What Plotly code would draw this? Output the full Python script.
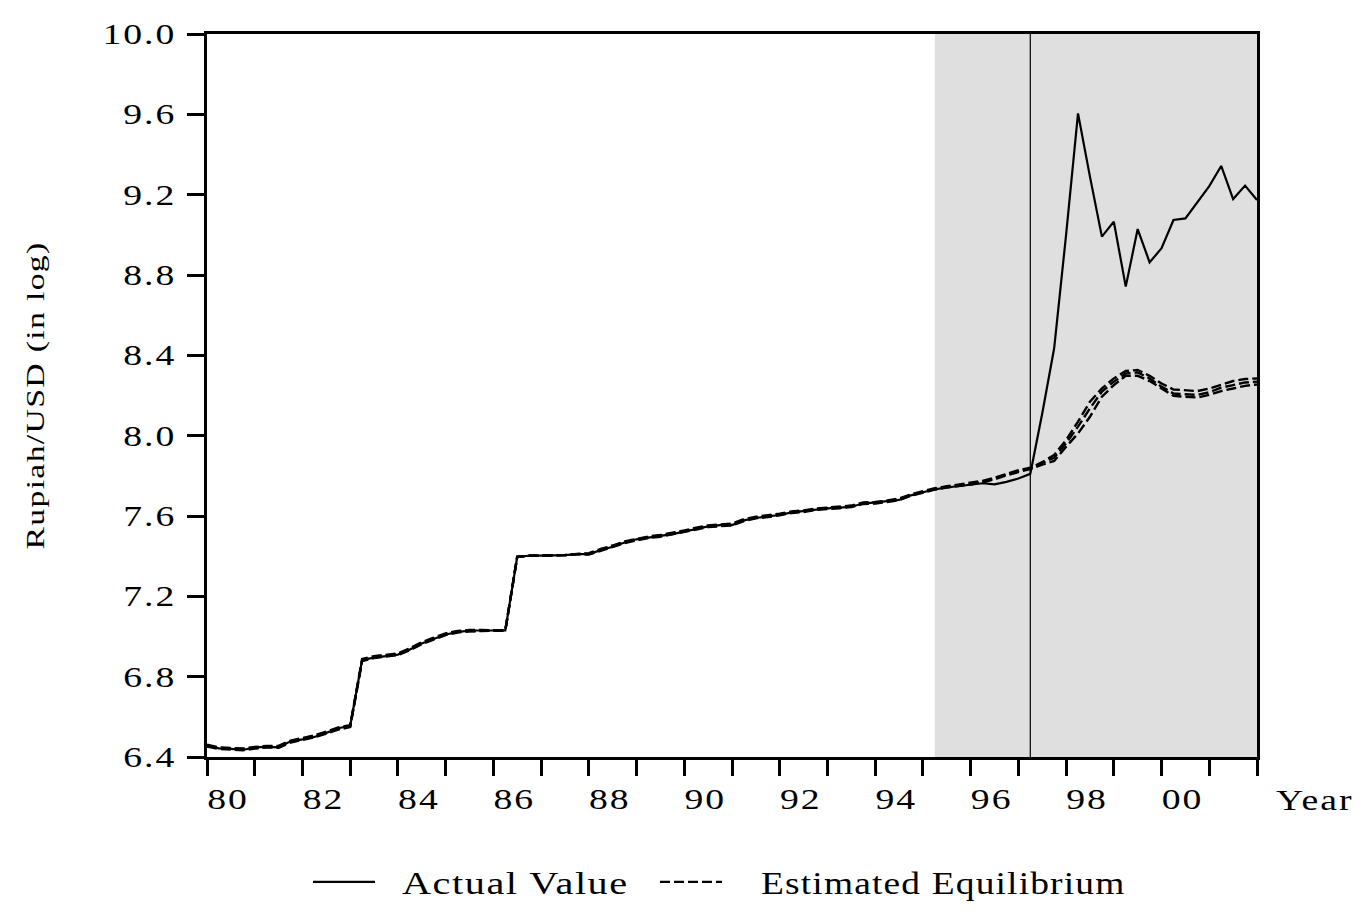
import plotly.graph_objects as go

# ---------------- data (quarterly, 1980Q1 onward; log Rupiah/USD) ----------------
START_YEAR = 1980
PER_YEAR = 4

actual_value = [
    6.460, 6.443, 6.440, 6.435, 6.448, 6.450, 6.448, 6.478,   # 1980-81
    6.488, 6.500, 6.520, 6.543, 6.555, 6.883, 6.895, 6.902,   # 1982-83
    6.910, 6.935, 6.965, 6.988, 7.010, 7.022, 7.030, 7.030,   # 1984-85
    7.030, 7.030, 7.397, 7.402, 7.403, 7.403, 7.405, 7.410,   # 1986-87
    7.410, 7.430, 7.447, 7.468, 7.484, 7.492, 7.500, 7.510,   # 1988-89
    7.522, 7.535, 7.548, 7.555, 7.555, 7.578, 7.590, 7.598,   # 1990-91
    7.605, 7.618, 7.625, 7.632, 7.638, 7.642, 7.646, 7.662,   # 1992-93
    7.667, 7.672, 7.680, 7.703, 7.718, 7.733, 7.742, 7.750,   # 1994-95
    7.757, 7.763, 7.758, 7.770, 7.787, 7.810, 8.110, 8.435,   # 1996-97
    9.000, 9.605, 9.290, 8.991, 9.066, 8.742, 9.029, 8.863,   # 1998-99
    8.933, 9.074, 9.082, 9.165, 9.243, 9.343, 9.178, 9.245,   # 2000-01
    9.173,                                                    # 2002
]

est_equilibrium = [
    6.455, 6.445, 6.442, 6.440, 6.445, 6.452, 6.452, 6.475,
    6.490, 6.505, 6.522, 6.540, 6.552, 6.880, 6.898, 6.905,
    6.912, 6.938, 6.968, 6.990, 7.012, 7.025, 7.028, 7.028,
    7.030, 7.030, 7.397, 7.402, 7.403, 7.403, 7.405, 7.410,
    7.412, 7.432, 7.450, 7.470, 7.482, 7.495, 7.502, 7.512,
    7.525, 7.538, 7.550, 7.553, 7.558, 7.580, 7.592, 7.600,
    7.608, 7.620, 7.623, 7.634, 7.640, 7.640, 7.648, 7.664,
    7.665, 7.674, 7.683, 7.705, 7.720, 7.735, 7.745, 7.752,
    7.760, 7.771, 7.787, 7.807, 7.824, 7.837, 7.862, 7.890,
    7.962, 8.045, 8.136, 8.219, 8.269, 8.310, 8.315, 8.285,
    8.244, 8.210, 8.206, 8.203, 8.216, 8.239, 8.252, 8.265,
    8.269,
]

est_upper = [
    6.462, 6.448, 6.445, 6.442, 6.450, 6.455, 6.455, 6.482,
    6.494, 6.508, 6.527, 6.547, 6.558, 6.888, 6.902, 6.908,
    6.916, 6.942, 6.972, 6.994, 7.016, 7.028, 7.032, 7.032,
    7.031, 7.030, 7.397, 7.402, 7.403, 7.403, 7.405, 7.411,
    7.415, 7.436, 7.453, 7.474, 7.487, 7.498, 7.506, 7.516,
    7.528, 7.542, 7.553, 7.558, 7.562, 7.584, 7.596, 7.604,
    7.611, 7.623, 7.628, 7.637, 7.643, 7.646, 7.652, 7.667,
    7.670, 7.677, 7.687, 7.708, 7.724, 7.738, 7.748, 7.756,
    7.764, 7.775, 7.791, 7.811, 7.828, 7.840, 7.868, 7.904,
    7.978, 8.070, 8.169, 8.235, 8.285, 8.322, 8.327, 8.298,
    8.260, 8.230, 8.227, 8.222, 8.235, 8.255, 8.272, 8.282,
    8.285,
]

est_lower = [
    6.452, 6.440, 6.437, 6.433, 6.442, 6.447, 6.446, 6.472,
    6.485, 6.498, 6.517, 6.536, 6.549, 6.877, 6.893, 6.900,
    6.907, 6.932, 6.962, 6.985, 7.007, 7.020, 7.026, 7.027,
    7.029, 7.030, 7.397, 7.402, 7.403, 7.403, 7.405, 7.409,
    7.408, 7.427, 7.445, 7.465, 7.479, 7.490, 7.497, 7.508,
    7.520, 7.533, 7.545, 7.550, 7.553, 7.575, 7.588, 7.595,
    7.603, 7.615, 7.620, 7.630, 7.635, 7.638, 7.644, 7.660,
    7.662, 7.670, 7.679, 7.701, 7.716, 7.731, 7.742, 7.749,
    7.757, 7.767, 7.783, 7.803, 7.820, 7.834, 7.856, 7.874,
    7.945, 8.011, 8.094, 8.194, 8.252, 8.298, 8.298, 8.272,
    8.235, 8.198, 8.194, 8.190, 8.203, 8.222, 8.235, 8.248,
    8.255,
]

x_tick_years = [1980, 1982, 1984, 1986, 1988, 1990, 1992, 1994, 1996, 1998, 2000]
x_tick_labels = ["80", "82", "84", "86", "88", "90", "92", "94", "96", "98", "00"]
x_minor_years = list(range(1980, 2003))
y_tick_vals = [6.4, 6.8, 7.2, 7.6, 8.0, 8.4, 8.8, 9.2, 9.6, 10.0]
y_tick_labels = ["6.4", "6.8", "7.2", "7.6", "8.0", "8.4", "8.8", "9.2", "9.6", "10.0"]

x_range = [1980, 2002]
y_range = [6.4, 10.0]
shade_start = 1995.25     # forecast / out-of-sample window
shade_end = 2002.0
break_date = 1997.25      # crisis break

for s in (est_equilibrium, est_upper, est_lower):
    assert len(s) == len(actual_value), len(s)


def quarters(values):
    return [START_YEAR + i / PER_YEAR for i in range(len(values))]


FONT = "Liberation Serif, Times New Roman, serif"
DASH = "10px,4px"

fig = go.Figure()

fig.add_trace(go.Scatter(x=quarters(actual_value), y=actual_value, mode="lines",
                         name="Actual Value", legendrank=1,
                         line=dict(color="black", width=2.2)))
fig.add_trace(go.Scatter(x=quarters(est_equilibrium), y=est_equilibrium, mode="lines",
                         name="Estimated Equilibrium", legendrank=2,
                         line=dict(color="black", width=2.4, dash=DASH)))
fig.add_trace(go.Scatter(x=quarters(est_lower), y=est_lower, mode="lines",
                         line=dict(color="black", width=2.4, dash=DASH),
                         showlegend=False, hoverinfo="skip"))
fig.add_trace(go.Scatter(x=quarters(est_upper), y=est_upper, mode="lines",
                         line=dict(color="black", width=2.4, dash=DASH),
                         showlegend=False, hoverinfo="skip"))

fig.add_shape(type="rect", xref="x", yref="paper", x0=shade_start, x1=shade_end,
              y0=0, y1=1, fillcolor="#DFDFDF", line=dict(width=0), layer="below")
fig.add_shape(type="line", xref="x", yref="paper", x0=break_date, x1=break_date,
              y0=0, y1=1, line=dict(color="black", width=1.2), layer="below")

fig.add_annotation(text="Year", xref="paper", yref="paper", x=1.02, y=-0.06,
                   xanchor="left", yanchor="middle", showarrow=False,
                   font=dict(family=FONT, size=29, color="black"))

fig.update_layout(
    width=1362, height=916,
    margin=dict(l=207, r=105, t=34, b=159, pad=0, autoexpand=False),
    paper_bgcolor="white", plot_bgcolor="white",
    font=dict(family=FONT, size=29, color="black"),
    legend=dict(orientation="h", yanchor="middle", y=-0.173, xanchor="left", x=0.0962,
                bgcolor="rgba(0,0,0,0)", borderwidth=0, itemwidth=62,
                entrywidth=270, entrywidthmode="pixels",
                font=dict(family=FONT, size=32, color="black")),
    xaxis=dict(range=x_range, tickmode="array", tickvals=x_tick_years, ticktext=x_tick_labels,
               ticks="outside", ticklen=16, tickwidth=2.5, tickcolor="black",
               showline=True, linewidth=3, linecolor="black", mirror=True,
               showgrid=False, zeroline=False, ticklabelshift=21, ticklabelstandoff=-2,
               tickfont=dict(family=FONT, size=29, color="black"),
               minor=dict(tickmode="array", tickvals=x_minor_years, ticks="outside",
                          ticklen=16, tickwidth=2.5, tickcolor="black", showgrid=False)),
    yaxis=dict(range=y_range, tickmode="array", tickvals=y_tick_vals, ticktext=y_tick_labels,
               ticks="outside", ticklen=17, tickwidth=2.5, tickcolor="black",
               showline=True, linewidth=3, linecolor="black", mirror=True,
               showgrid=False, zeroline=False, ticklabelstandoff=5,
               tickfont=dict(family=FONT, size=29, color="black"),
               title=dict(text="Rupiah/USD (in log)", standoff=74,
                          font=dict(family=FONT, size=26, color="black"))),
)

# Widen the serif lettering the way the original (horizontally stretched) figure shows it.
post_js = """
var gd = document.getElementById('{plot_id}');
function widen(el, sx, ls, pivotMode, dx) {
  if (el.getAttribute('data-widened') === '1' && el.getAttribute('transform') === el.getAttribute('data-tf')) return;
  var base = el.getAttribute('transform') || '';
  var b = el.getBBox();
  var px = pivotMode === 'left' ? b.x : (parseFloat(el.getAttribute('x')) || 0);
  el.style.letterSpacing = ls + 'px';
  var tf = base + ' translate(' + (px + (dx || 0)) + ',0) scale(' + sx + ',1) translate(' + (-px) + ',0)';
  el.setAttribute('transform', tf);
  el.setAttribute('data-tf', tf);
  el.setAttribute('data-widened', '1');
}
function applyAll() {
  gd.querySelectorAll('.xtick text, .ytick text').forEach(function (t) { widen(t, 1.3, 1.5, 'x', 0); });
  gd.querySelectorAll('.ytitle').forEach(function (t) { widen(t, 1.3, 1.0, 'x', 0); });
  gd.querySelectorAll('.annotation-text').forEach(function (t) { widen(t, 1.3, 1.5, 'left', 0); });
  gd.querySelectorAll('.legendtext').forEach(function (t) {
    var txt = t.textContent || '';
    if (txt.indexOf('Actual') === 0) widen(t, 1.26, 1.2, 'x', 22);
    else widen(t, 1.17, 1.0, 'x', 34);
  });
  gd.querySelectorAll('.scrollbox').forEach(function (s) { s.removeAttribute('clip-path'); });
}
applyAll();
gd.on('plotly_afterplot', applyAll);
[0, 50, 200, 600].forEach(function (ms) { setTimeout(applyAll, ms); });
"""

fig.write_html("out.html", post_script=post_js)
